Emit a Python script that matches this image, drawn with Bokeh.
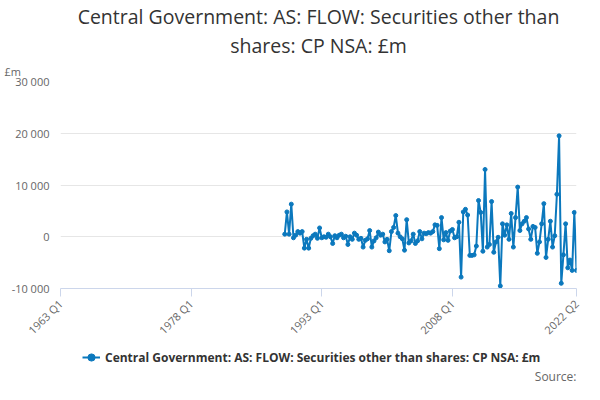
from bokeh.plotting import figure
from bokeh.models import Range1d, Legend, LegendItem, FixedTicker, CustomJSTickFormatter, Title
from bokeh.layouts import column
from bokeh.embed import file_html
from bokeh.resources import INLINE
import math

values = [500, 4800, 500, 6300, -200, 300, 1000, 700, 1000, -2200, -500, -2200, -300, 200, 500, -300,
          1700, -200, 0, -100, 500, 0, -1300, 200, -200, 300, 500, -200, 100, -1500, 0, -500,
          700, 300, -500, -300, -2000, -700, -400, 1200, -2000, -800, -200, 900, 300, 500, -1000, -500,
          -2700, 1000, 1800, 4100, 700, 0, -400, -2600, 3300, -1200, -800, 500, -1300, -800, 1000, -400,
          700, 600, 800, 700, 1000, 2300, 2200, -2300, 3700, -600, 800, -700, 1100, 1400, -200, 0,
          2800, -7800, 4800, 5300, 4200, -3600, -3600, -3500, -1800, 7000, 4700, -2800, 13000, -2000, -1500, 6800,
          -3000, -1000, -100, -9500, 2500, 300, 2300, -500, 4500, -2000, 3700, 9600, 1200, 2500, 3000, 3700,
          1500, -500, 2000, 1800, -3200, -1000, 2500, 6400, -4000, -500, 3000, -2000, 200, 8200, 19500, -9000,
          -3500, 2500, -6000, -4500, -6500, 4700, -6500]
tick_years = [1963.0, 1978.0, 1993.0, 2008.0, 2022.25]
tick_labels = ["1963 Q1", "1978 Q1", "1993 Q1", "2008 Q1", "2022 Q2"]
last = 2022.25
xs = [last - 0.25 * (len(values) - 1 - i) for i in range(len(values))]
series_name = "Central Government: AS: FLOW: Securities other than shares: CP NSA: £m"

color = "#0b78bd"
p = figure(width=584, height=350, output_backend="svg", toolbar_location=None,
           x_range=Range1d(1963.0, 2022.25), y_range=Range1d(-10000, 30000),
           min_border_left=60, min_border_right=8, min_border_top=0, min_border_bottom=62)
title_style = dict(align="center", text_font="Open Sans", text_font_size="19.5px",
                   text_font_style="normal", text_color="#333333", offset=-26, standoff=0)
p.title = Title(text="Central Government: AS: FLOW: Securities other than", **title_style)
p.add_layout(Title(text="£m", align="left", offset=-56, text_font="Open Sans", text_font_size="11px",
                   text_font_style="normal", text_color="#666666", standoff=6), "above")
p.add_layout(Title(text="shares: CP NSA: £m", **title_style), "above")
p.outline_line_color = None
p.xgrid.grid_line_color = None
p.ygrid.grid_line_color = "#e6e6e6"

p.xaxis.ticker = FixedTicker(ticks=tick_years)
p.xaxis.major_label_overrides = {t: l for t, l in zip(tick_years, tick_labels)}
p.xaxis.major_label_orientation = math.pi / 4
p.xaxis.axis_line_color = "#ccd6eb"
p.xaxis.major_tick_line_color = "#ccd6eb"
p.xaxis.major_tick_out = 8
p.xaxis.major_tick_in = 0
p.xaxis.minor_tick_line_color = None
p.yaxis.ticker = FixedTicker(ticks=[-10000, 0, 10000, 20000, 30000])
p.yaxis.formatter = CustomJSTickFormatter(code="return tick.toString().replace(/\\B(?=(\\d{3})+(?!\\d))/g, ' ');")
p.yaxis.axis_line_color = None
p.yaxis.major_tick_line_color = None
p.yaxis.minor_tick_line_color = None
for ax in (p.xaxis, p.yaxis):
    ax.major_label_text_font = "Open Sans"
    ax.major_label_text_font_size = "11px"
    ax.major_label_text_color = "#666666"

p.line(xs, values, line_color=color, line_width=2)
p.scatter(xs, values, size=4, fill_color=color, line_color=color)

# legend and source strip
lg = figure(width=584, height=34, output_backend="svg", toolbar_location=None,
            x_range=Range1d(0, 1), y_range=Range1d(0, 1), min_border=0)
lg.axis.visible = False
lg.grid.visible = False
lg.outline_line_color = None
l1 = lg.line([-5, -4], [-5, -4], line_color=color, line_width=2)
l2 = lg.scatter([-5], [-5], size=3, fill_color=color, line_color=color)
legend = Legend(items=[LegendItem(label=series_name, renderers=[l1, l2])],
                location=(22, -2), orientation="horizontal", border_line_color=None,
                background_fill_alpha=0,
                label_text_font="Open Sans", label_text_font_size="12px", label_text_font_style="bold",
                label_text_color="#333333", glyph_width=18, padding=0, margin=0)
lg.add_layout(legend)
lg.add_layout(Title(text="Source:", align="right", text_font="Open Sans", text_font_size="12px",
                    text_font_style="normal", text_color="#666666", standoff=0), "below")

open("out.html", "w").write(file_html(column(p, lg, spacing=0), INLINE))
